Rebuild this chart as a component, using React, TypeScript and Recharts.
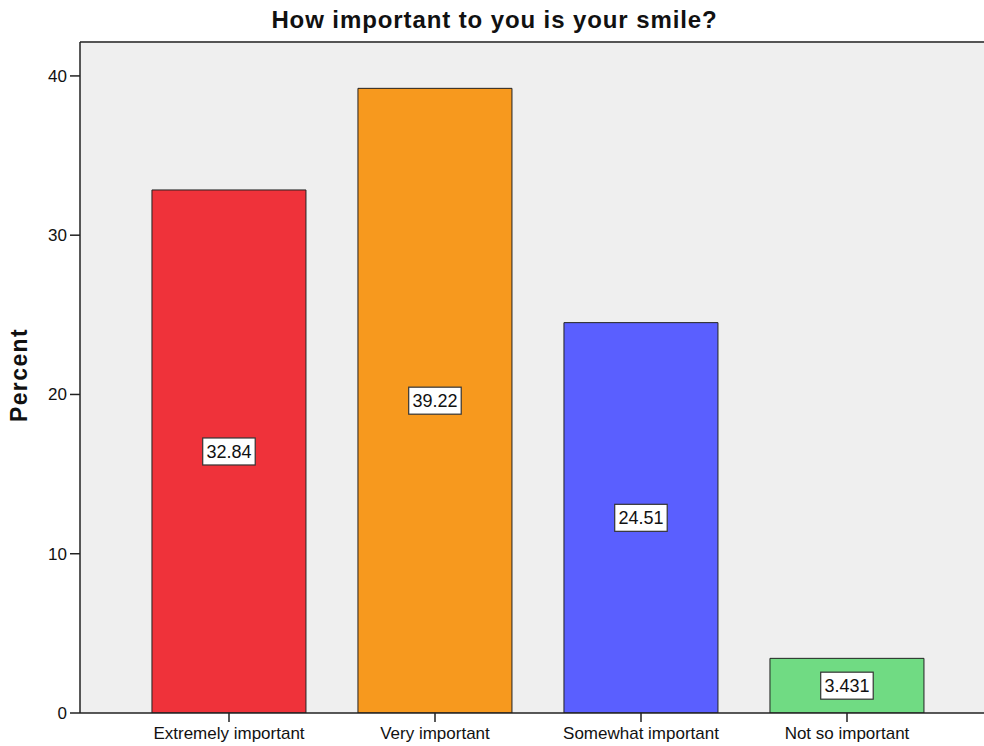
import { BarChart, Bar, XAxis, YAxis, Cell, CartesianGrid, ReferenceLine, LabelList } from "recharts";

const categories = ["Extremely important", "Very important", "Somewhat important", "Not so important"];
const percents = [32.84, 39.22, 24.51, 3.431];
const barColors = ["#ef323a", "#f7991e", "#5a5fff", "#70db83"];
const yTicks = [0, 10, 20, 30, 40];
const yMax = 42.13;

const data = categories.map((name, i) => ({ name, value: percents[i] }));

const FONT = "'Liberation Sans', Arial, sans-serif";

// white boxed value in the middle of each bar
function ValueBox(props: any) {
  const { x, y, width, height, value } = props;
  const cx = x + width / 2;
  const cy = y + height / 2;
  const text = String(value);
  const w = text.length * 9.3 + 6;
  const h = 27;
  return (
    <g>
      <rect x={cx - w / 2} y={cy - h / 2} width={w} height={h} fill="#fff" stroke="#333" strokeWidth={1.2} />
      <text x={cx} y={cy + 6.5} textAnchor="middle" fontFamily={FONT} fontSize={18} fill="#111">
        {text}
      </text>
    </g>
  );
}

export default function App() {
  return (
    <div style={{ width: 984, height: 746, overflow: "hidden", position: "relative", background: "#fff" }}>
      <style>{"html,body{margin:0;padding:0;overflow:hidden;}"}</style>
      <div
        style={{
          position: "absolute",
          top: 6,
          left: 0,
          width: 989,
          textAlign: "center",
          fontFamily: FONT,
          fontWeight: "bold",
          fontSize: 24,
          letterSpacing: 0.9,
          color: "#111",
          zIndex: 2,
          whiteSpace: "nowrap",
        }}
      >
        How important to you is your smile?
      </div>
      <div
        style={{
          position: "absolute",
          left: 19,
          top: 375,
          transform: "translate(-50%, -50%) rotate(-90deg)",
          fontFamily: FONT,
          fontWeight: "bold",
          fontSize: 23,
          letterSpacing: 1.4,
          color: "#111",
          zIndex: 2,
          whiteSpace: "nowrap",
        }}
      >
        Percent
      </div>
      <BarChart
        width={984}
        height={746}
        data={data}
        margin={{ top: 42, right: 0, bottom: 3, left: 30 }}
        barCategoryGap="12.6%"
      >
        <CartesianGrid fill="#efefef" horizontal={false} vertical={false} />
        <XAxis
          dataKey="name"
          height={30}
          padding={{ left: 46, right: 34 }}
          axisLine={{ stroke: "#222", strokeWidth: 1.5 }}
          tickLine={{ stroke: "#222", strokeWidth: 1.5 }}
          tickSize={9}
          tickMargin={5}
          tick={{ fontFamily: FONT, fontSize: 17, fill: "#111" }}
          interval={0}
        />
        <YAxis
          width={50}
          domain={[0, yMax]}
          ticks={yTicks}
          allowDataOverflow
          axisLine={{ stroke: "#222", strokeWidth: 1.5 }}
          tickLine={{ stroke: "#222", strokeWidth: 1.5 }}
          tickSize={10}
          tickMargin={3}
          tick={{ fontFamily: FONT, fontSize: 17, fill: "#111" }}
        />
        <ReferenceLine y={yMax} stroke="#555" strokeWidth={2} ifOverflow="extendDomain" />
        <Bar dataKey="value" stroke="#222" strokeWidth={1} isAnimationActive={false}>
          {data.map((d, i) => (
            <Cell key={d.name} fill={barColors[i]} />
          ))}
          <LabelList dataKey="value" content={ValueBox} />
        </Bar>
      </BarChart>
    </div>
  );
}
